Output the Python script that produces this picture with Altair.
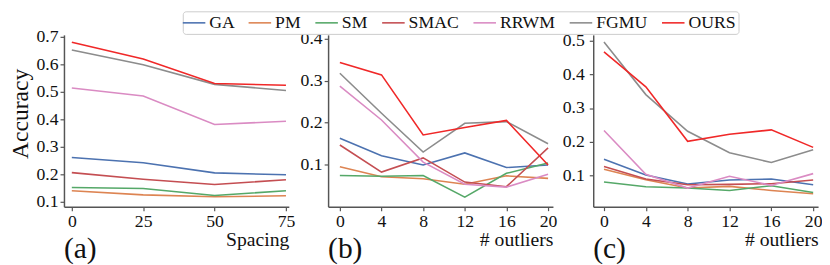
import altair as alt
import pandas as pd

methods = ["GA", "PM", "SM", "SMAC", "RRWM", "FGMU", "OURS"]
colors = ["#4c72b0", "#dd8452", "#55a868", "#c44e52", "#da8bc3", "#8c8c8c", "#f02828"]

# Panel (a): accuracy vs spacing
spacing_x = [0, 25, 50, 75]
a_vals = {
    "GA":   [0.261, 0.242, 0.205, 0.198],
    "PM":   [0.140, 0.125, 0.118, 0.122],
    "SM":   [0.152, 0.148, 0.123, 0.140],
    "SMAC": [0.206, 0.182, 0.163, 0.180],
    "RRWM": [0.514, 0.485, 0.381, 0.393],
    "FGMU": [0.652, 0.598, 0.527, 0.505],
    "OURS": [0.680, 0.619, 0.530, 0.524],
}

# Panel (b): accuracy vs # outliers
outliers_x = [0, 4, 8, 12, 16, 20]
b_vals = {
    "GA":   [0.162, 0.120, 0.098, 0.127, 0.092, 0.098],
    "PM":   [0.094, 0.070, 0.065, 0.052, 0.072, 0.066],
    "SM":   [0.073, 0.071, 0.073, 0.021, 0.078, 0.103],
    "SMAC": [0.146, 0.081, 0.115, 0.057, 0.046, 0.139],
    "RRWM": [0.287, 0.206, 0.105, 0.052, 0.045, 0.076],
    "FGMU": [0.318, 0.222, 0.129, 0.198, 0.202, 0.149],
    "OURS": [0.344, 0.314, 0.170, 0.188, 0.205, 0.098],
}

# Panel (c): accuracy vs # outliers
c_vals = {
    "GA":   [0.148, 0.101, 0.074, 0.086, 0.089, 0.072],
    "PM":   [0.118, 0.087, 0.062, 0.067, 0.055, 0.045],
    "SM":   [0.080, 0.066, 0.062, 0.055, 0.069, 0.049],
    "SMAC": [0.126, 0.089, 0.072, 0.073, 0.075, 0.086],
    "RRWM": [0.233, 0.103, 0.062, 0.097, 0.070, 0.105],
    "FGMU": [0.496, 0.340, 0.231, 0.167, 0.138, 0.176],
    "OURS": [0.467, 0.363, 0.201, 0.222, 0.235, 0.183],
}

a_yticks = [0.1, 0.2, 0.3, 0.4, 0.5, 0.6, 0.7]
b_yticks = [0.1, 0.2, 0.3, 0.4]
c_yticks = [0.1, 0.2, 0.3, 0.4, 0.5]

FONT = "Liberation Serif"


def to_long(xs, vals):
    rows = []
    for i, m in enumerate(methods):
        for x, v in zip(xs, vals[m]):
            rows.append({"x": x, "acc": v, "method": m, "ord": i})
    return pd.DataFrame(rows)


color_enc = alt.Color(
    "method:N",
    scale=alt.Scale(domain=methods, range=colors),
    legend=alt.Legend(
        title=None,
        orient="none",
        direction="horizontal",
        legendX=121,
        legendY=-24,
        symbolType="M-1.35,0H1.35",
        symbolSize=289,
        symbolStrokeWidth=1.6,
        symbolFillColor="transparent",
        labelFont=FONT,
        labelFontSize=18,
        labelColor="#111",
        labelOffset=6,
        columnPadding=10,
        padding=2,
        strokeColor="#cccccc",
        cornerRadius=3,
        fillColor="white",
    ),
)


def panel(df, xdom, xticks, ydom, yticks, xtitle, label, ytitle, lpad):
    yaxis_kw = dict(values=yticks, format=".1f", labelPadding=lpad)
    if ytitle:
        yaxis_kw.update(title="Accuracy", titleFont=FONT, titleFontSize=24,
                        titleFontWeight="normal", titlePadding=4, titleColor="#111",
                        titleY=80)
    else:
        yaxis_kw.update(title=None)
    return alt.Chart(df).mark_line(strokeWidth=1.6).encode(
        x=alt.X("x:Q", scale=alt.Scale(domain=xdom, nice=False, zero=False),
                axis=alt.Axis(values=xticks, title=xtitle, titleAnchor="end",
                              titleFont=FONT, titleFontSize=20, titleFontWeight="normal",
                              titlePadding=0, titleColor="#111")),
        y=alt.Y("acc:Q", scale=alt.Scale(domain=ydom, nice=False, zero=False),
                axis=alt.Axis(**yaxis_kw)),
        color=color_enc,
        order="ord:Q",
    ).properties(
        width=229, height=175,
        title=alt.TitleParams(label, orient="bottom", anchor="start", frame="group",
                              font=FONT, fontSize=30, fontWeight="normal",
                              color="#111", offset=-16),
    )


pa = panel(to_long(spacing_x, a_vals), [-2.75, 76.0], spacing_x, [0.082, 0.707],
           a_yticks, "Spacing", "(a)", True, 2)
pb = panel(to_long(outliers_x, b_vals), [-1.13, 20.47], outliers_x, [-0.002, 0.41],
           b_yticks, "# outliers", "(b)", False, 2)
pc = panel(to_long(outliers_x, c_vals), [-1.03, 20.47], outliers_x, [0.0066, 0.5175],
           c_yticks, "# outliers", "(c)", False, 5)

chart = alt.hconcat(pa, pb, pc, spacing=4).properties(
    padding=0
).configure_view(stroke=None).configure_axis(
    grid=False,
    domainColor="#555",
    domainWidth=1.5,
    tickColor="#555",
    tickSize=4,
    tickWidth=1.2,
    labelFont=FONT,
    labelFontSize=18,
    labelColor="#111",
)

chart.save("out.html", embed_options={"renderer": "svg", "actions": False})
